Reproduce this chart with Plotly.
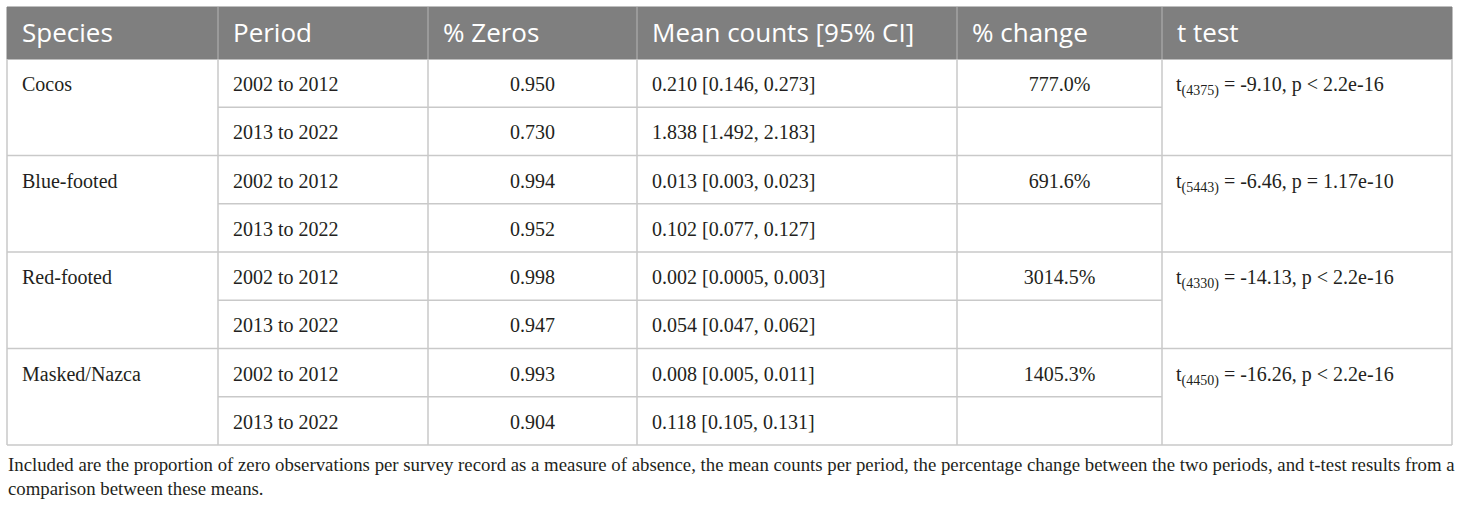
import plotly.graph_objects as go

# Tabellendaten
header = ['Species', 'Period', '% Zeros', 'Mean counts [95% CI]', '% change', 't test']
species = ['Cocos', 'Blue-footed', 'Red-footed', 'Masked/Nazca']
periods = ['2002 to 2012', '2013 to 2022']
zeros = [0.950, 0.730, 0.994, 0.952, 0.998, 0.947, 0.993, 0.904]
means = ['0.210', '1.838', '0.013', '0.102', '0.002', '0.054', '0.008', '0.118']
ci_low = ['0.146', '1.492', '0.003', '0.077', '0.0005', '0.047', '0.005', '0.105']
ci_high = ['0.273', '2.183', '0.023', '0.127', '0.003', '0.062', '0.011', '0.131']
pct_change = ['777.0%', '691.6%', '3014.5%', '1405.3%']
t_df = [4375, 5443, 4330, 4450]
t_stat = ['-9.10', '-6.46', '-14.13', '-16.26']
p_text = ['p &lt; 2.2e-16', 'p = 1.17e-10', 'p &lt; 2.2e-16', 'p &lt; 2.2e-16']
caption = ['Included are the proportion of zero observations per survey record as a measure of absence, '
           'the mean counts per period, the percentage change between the two periods, and t-test results from a',
           'comparison between these means.']

# Geometrie
col_edges = [7, 218, 428, 637, 957, 1162, 1452]
top, head_bottom = 7, 59
row_h = 48.25
n_rows = len(zeros)
row_edges = [head_bottom + i * row_h for i in range(n_rows + 1)]
pad = 15
line_col = '#c9c9c9'
serif = 'Liberation Serif'
body_size = 20
text_col = '#231f20'

fig = go.Figure()

# Kopfzeile
fig.add_shape(type='rect', x0=col_edges[0], x1=col_edges[-1], y0=top, y1=head_bottom,
              fillcolor='#7f7f7f', line=dict(color='#7f7f7f', width=1), layer='below')
for x in col_edges[1:-1]:
    fig.add_shape(type='line', x0=x, x1=x, y0=top, y1=head_bottom, line=dict(color='#a3a3a3', width=1.5))

# Gitterlinien
for x in col_edges:
    fig.add_shape(type='line', x0=x, x1=x, y0=head_bottom, y1=row_edges[-1], line=dict(color=line_col, width=1.5))
for i, y in enumerate(row_edges[1:], start=1):
    if i % 2 == 0:
        x0, x1 = col_edges[0], col_edges[-1]
    else:
        x0, x1 = col_edges[1], col_edges[5]
    fig.add_shape(type='line', x0=x0, x1=x1, y0=y, y1=y, line=dict(color=line_col, width=1.5))

row_mid = [(row_edges[i] + row_edges[i + 1]) / 2 + 3 for i in range(n_rows)]

# Kopftext
fig.add_trace(go.Scatter(
    x=[c + pad for c in col_edges[:-1]], y=[(top + head_bottom) / 2 + 2] * len(header),
    text=header, mode='text', textposition='middle right',
    textfont=dict(family='Open Sans', size=26, color='white'), hoverinfo='skip'))

# linksbündige Spalten
left_x, left_y, left_t = [], [], []
for k, sp in enumerate(species):
    left_x.append(col_edges[0] + pad); left_y.append(row_mid[2 * k]); left_t.append(sp)
for i in range(n_rows):
    left_x.append(col_edges[1] + pad); left_y.append(row_mid[i]); left_t.append(periods[i % 2])
    left_x.append(col_edges[3] + pad); left_y.append(row_mid[i])
    left_t.append(f'{means[i]} [{ci_low[i]}, {ci_high[i]}]')
for k in range(len(species)):
    left_x.append(col_edges[5] + pad - 1); left_y.append(row_mid[2 * k])
    left_t.append(f't<sub>({t_df[k]})</sub> = {t_stat[k]}, {p_text[k]}')
fig.add_trace(go.Scatter(
    x=left_x, y=left_y, text=left_t, mode='text', textposition='middle right',
    textfont=dict(family=serif, size=body_size, color=text_col), hoverinfo='skip'))

# zentrierte Spalten
fig.add_trace(go.Scatter(
    x=[(col_edges[2] + col_edges[3]) / 2] * n_rows, y=row_mid,
    text=[f'{z:.3f}' for z in zeros], mode='text', textposition='middle center',
    textfont=dict(family=serif, size=body_size, color=text_col), hoverinfo='skip'))
fig.add_trace(go.Scatter(
    x=[(col_edges[4] + col_edges[5]) / 2] * len(pct_change), y=[row_mid[2 * k] for k in range(len(species))],
    text=pct_change, mode='text', textposition='middle center',
    textfont=dict(family=serif, size=body_size, color=text_col), hoverinfo='skip'))

# Unterschrift
fig.add_trace(go.Scatter(
    x=[col_edges[0] + 1] * len(caption), y=[466, 490],
    text=caption, mode='text', textposition='middle right',
    textfont=dict(family=serif, size=18.8, color=text_col), hoverinfo='skip'))

fig.update_layout(
    width=1460, height=507,
    margin=dict(l=0, r=0, t=0, b=0),
    plot_bgcolor='white', paper_bgcolor='white',
    showlegend=False,
    xaxis=dict(range=[0, 1460], visible=False, fixedrange=True),
    yaxis=dict(range=[507, 0], visible=False, fixedrange=True),
)

fig.write_html('out.html', config={'displayModeBar': False},
               post_script="document.body.style.margin='0';document.body.style.overflow='hidden';")
